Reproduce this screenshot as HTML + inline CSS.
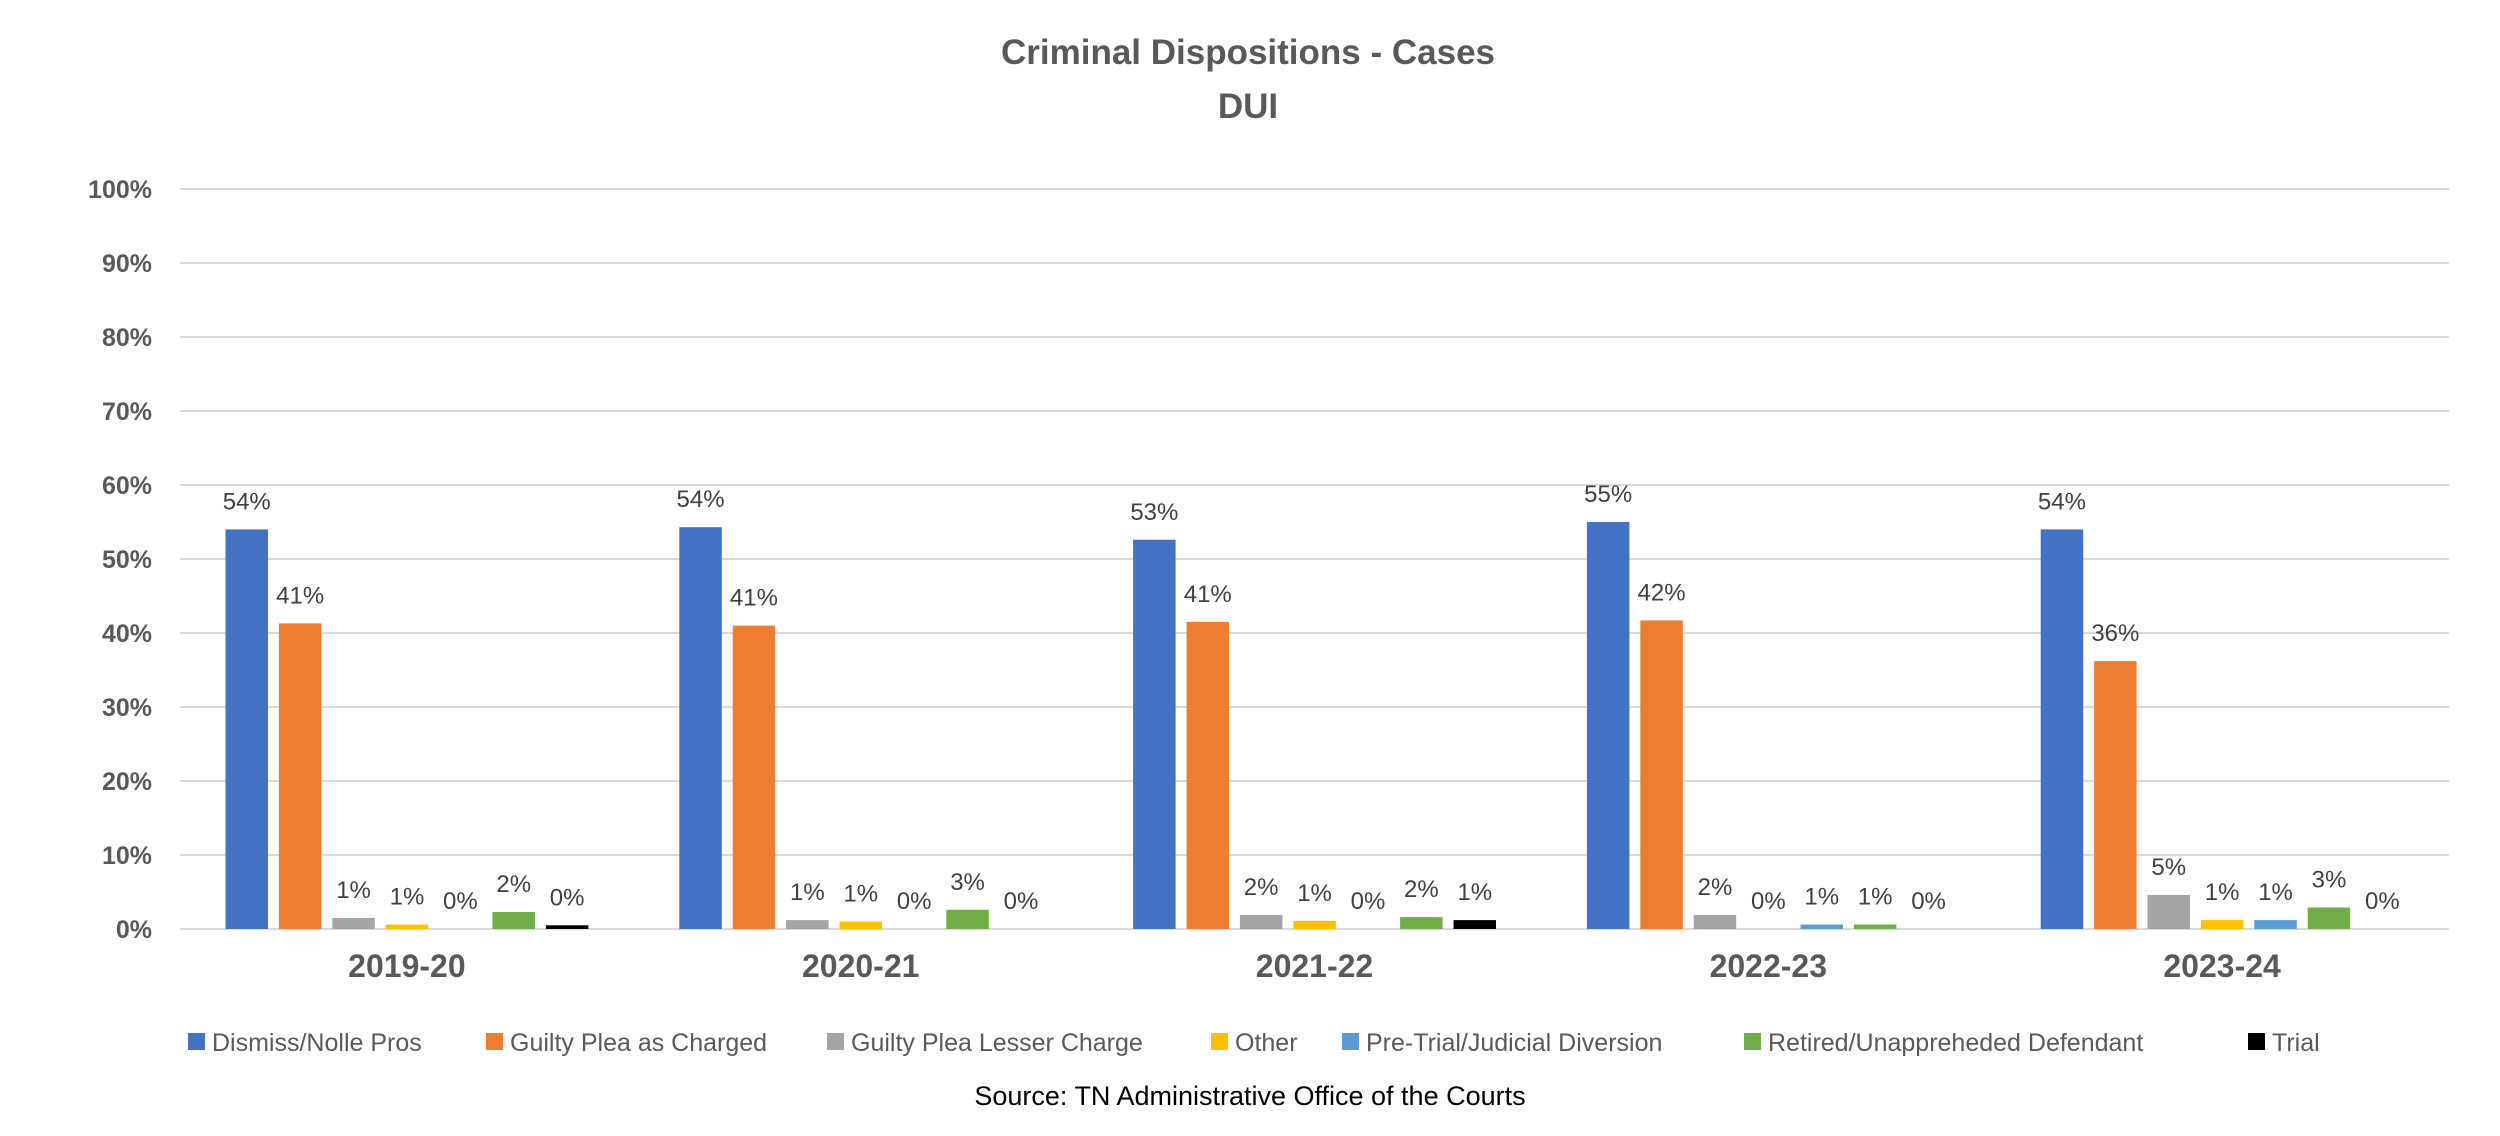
<!DOCTYPE html>
<html><head><meta charset="utf-8"><style>
html,body{margin:0;padding:0;background:#fff;}
svg{display:block;font-family:"Liberation Sans",sans-serif;}
</style></head><body>
<svg id="chart" width="2500" height="1136" viewBox="0 0 2500 1136" xmlns="http://www.w3.org/2000/svg">
<text x="1248" y="64" text-anchor="middle" font-size="35" font-weight="bold" fill="#595959">Criminal Dispositions - Cases</text>
<text x="1248" y="118" text-anchor="middle" font-size="35" font-weight="bold" fill="#595959">DUI</text>
<g id="grid"></g><g id="bars"></g><g id="labels"></g><g id="legend"></g>
<text x="1250" y="1105" text-anchor="middle" font-size="27" fill="#000">Source: TN Administrative Office of the Courts</text>
</svg>
<script>
const categories = ["2019-20","2020-21","2021-22","2022-23","2023-24"];
const seriesNames = ["Dismiss/Nolle Pros","Guilty Plea as Charged","Guilty Plea Lesser Charge","Other","Pre-Trial/Judicial Diversion","Retired/Unappreheded Defendant","Trial"];
const dismiss = [54.0,54.3,52.6,55.0,54.0];
const guiltyCharged = [41.3,41.0,41.5,41.7,36.2];
const guiltyLesser = [1.5,1.2,1.9,1.9,4.6];
const other = [0.6,1.0,1.1,0,1.2];
const diversion = [0,0,0,0.6,1.2];
const retired = [2.3,2.6,1.6,0.6,2.9];
const trial = [0.5,0,1.2,0,0];
const dismissLabels = ["54%","54%","53%","55%","54%"];
const chargedLabels = ["41%","41%","41%","42%","36%"];
const lesserLabels = ["1%","1%","2%","2%","5%"];
const otherLabels = ["1%","1%","1%","0%","1%"];
const diversionLabels = ["0%","0%","0%","1%","1%"];
const retiredLabels = ["2%","3%","2%","1%","3%"];
const trialLabels = ["0%","0%","1%","0%","0%"];
const yTicks = [0,10,20,30,40,50,60,70,80,90,100];
const yTickLabels = ["0%","10%","20%","30%","40%","50%","60%","70%","80%","90%","100%"];
const series = [dismiss,guiltyCharged,guiltyLesser,other,diversion,retired,trial];
const seriesLabels = [dismissLabels,chargedLabels,lesserLabels,otherLabels,diversionLabels,retiredLabels,trialLabels];
const colors = ["#4472C4","#ED7D31","#A5A5A5","#FFC000","#5B9BD5","#70AD47","#000000"];
const NS="http://www.w3.org/2000/svg";
const L=180,R=2449,T=189,B=929;
const groupW=(R-L)/categories.length, barW=42.5, pitch=53.4, pad=45.5;
function y(v){return B-(v/100)*(B-T);}
function xBar(c,s){return L+c*groupW+pad+s*pitch;}
function mk(tag,attrs,parent){const e=document.createElementNS(NS,tag);for(const k in attrs)e.setAttribute(k,attrs[k]);parent.appendChild(e);return e;}
const grid=document.getElementById('grid'),bars=document.getElementById('bars'),labels=document.getElementById('labels'),legend=document.getElementById('legend');
yTicks.forEach((t,i)=>{
  const ln=mk('line',{x1:L,x2:R,y1:y(t),y2:y(t),stroke:'#D9D9D9','stroke-width':2},grid);
  
  
  const tx=mk('text',{x:152,y:y(t)+9,'text-anchor':'end','font-size':25,'font-weight':'bold',fill:'#595959'},grid);
  tx.textContent=yTickLabels[i];
  
  
});
categories.forEach((c,ci)=>{
  series.forEach((s,si)=>{
    const v=s[ci];
    const r=mk('rect',{x:xBar(ci,si),y:y(v),width:barW,height:B-y(v),fill:colors[si]},bars);
    
    
    const t=mk('text',{x:xBar(ci,si)+barW/2,y:y(v)-20,'text-anchor':'middle','font-size':24,fill:'#404040'},labels);
    t.textContent=seriesLabels[si][ci];
    
    
  });
  const ct=mk('text',{x:L+(ci+0.5)*groupW,y:977,'text-anchor':'middle','font-size':32,'font-weight':'bold',fill:'#595959'},labels);
  ct.textContent=c;
  
  
});
const legX=[188,486,827,1211,1342,1744,2248];
seriesNames.forEach((n,i)=>{
  const sq=mk('rect',{x:legX[i],y:1033,width:17,height:17,fill:colors[i]},legend);
  
  
  const t=mk('text',{x:legX[i]+24,y:1051,'font-size':25,fill:'#595959'},legend);
  t.textContent=n;
  
  
});
</script>
</body></html>
